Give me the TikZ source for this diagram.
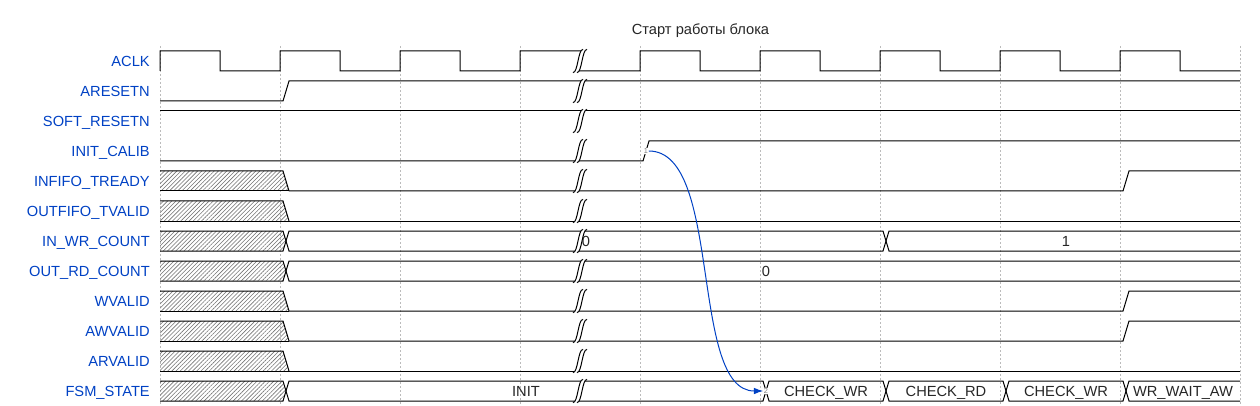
\documentclass[tikz,border=0pt]{standalone}
\usepackage{fontspec}
\setmainfont{Liberation Sans}
\usetikzlibrary{patterns.meta,arrows.meta}
\definecolor{wdblue}{HTML}{0041C4}
\definecolor{gridgray}{HTML}{BBBBBB}
\newcommand\gapmark[1]{%
  \begin{scope}[shift={(580,#1)},yscale=1.45]
    \fill[white] (7,-8) -- (3,-8) .. controls (-2,-8) and (-2,8) .. (-7,8) -- (-3,8) .. controls (2,8) and (2,-8) .. (7,-8) -- cycle;
    \draw[sig] (-7,8) .. controls (-2,8) and (-2,-8) .. (3,-8);
    \draw[sig] (-3,8) .. controls (2,8) and (2,-8) .. (7,-8);
  \end{scope}}
\newcommand\hatchlow[2]{%
  \fill[hatch] (160,#1) -- (283,#1) -- (289,#2) -- (160,#2) -- cycle;
  \draw[sig] (160,#1) -- (283,#1) -- (289,#2);
  \draw[sig] (160,#2) -- (289,#2);}
\newcommand\hatchbus[2]{%
  \fill[hatch] (160,#1) -- (283,#1) -- (286,{(#1+#2)/2}) -- (283,#2) -- (160,#2) -- cycle;}
\tikzset{
  sig/.style={line width=0.75pt, black, line join=miter},
  gridline/.style={gridgray, line width=0.75pt, dash pattern=on 1.5pt off 1.5pt},
  lbl/.style={anchor=base east, text=wdblue, font=\fontsize{11}{13}\selectfont, inner sep=0pt},
  dat/.style={anchor=base, text=black!85, font=\fontsize{11}{13}\selectfont, inner sep=0pt},
  hatch/.style={pattern={Lines[angle=45,distance=2.2pt,line width=0.45pt]}, pattern color=black!55},
  nodemark/.style={font=\fontsize{5.5}{6}\selectfont, text=black!50, fill=white, inner sep=0.4pt},
  edgearrow/.style={wdblue, line width=0.75pt, -{Latex[length=7pt,width=5pt]}},
}
\begin{document}
\begin{tikzpicture}[x=0.75pt,y=-0.75pt]
\useasboundingbox (0,0) rectangle (1260,406);
% grid
\foreach \gx in {160,280,...,1240} \draw[gridline] (\gx,46) -- (\gx,406);
% title
\node[dat] (title) at (700.5,34.5) {Старт работы блока};
% labels
\node[lbl] (l0) at (150,66.8) {ACLK};
\node[lbl] (l1) at (150,96.8) {ARESETN};
\node[lbl] (l2) at (150,126.8) {SOFT\_RESETN};
\node[lbl] (l3) at (150,156.8) {INIT\_CALIB};
\node[lbl] (l4) at (150,186.8) {INFIFO\_TREADY};
\node[lbl] (l5) at (150,216.8) {OUTFIFO\_TVALID};
\node[lbl] (l6) at (150,246.8) {IN\_WR\_COUNT};
\node[lbl] (l7) at (150,276.8) {OUT\_RD\_COUNT};
\node[lbl] (l8) at (150,306.8) {WVALID};
\node[lbl] (l9) at (150,336.8) {AWVALID};
\node[lbl] (l10) at (150,366.8) {ARVALID};
\node[lbl] (l11) at (150,396.8) {FSM\_STATE};
% ACLK
\draw[sig] (160,71)--(160,51)--(220,51)--(220,71)--(280,71)--(280,51)--(340,51)--(340,71)--(400,71)--(400,51)--(460,51)--(460,71)--(520,71)--(520,51)--(584,51)--(576,71)--(640,71)--(640,51)--(700,51)--(700,71)--(760,71)--(760,51)--(820,51)--(820,71)--(880,71)--(880,51)--(940,51)--(940,71)--(1000,71)--(1000,51)--(1060,51)--(1060,71)--(1120,71)--(1120,51)--(1180,51)--(1180,71)--(1240,71);
% ARESETN
\draw[sig] (160,101)--(283,101)--(289,81)--(1240,81);
% SOFT_RESETN
\draw[sig] (160,111)--(1240,111);
% INIT_CALIB
\draw[sig] (160,161)--(643,161)--(649,141)--(1240,141);
% INFIFO_TREADY
\hatchlow{171}{191}
\draw[sig] (289,191)--(1123,191)--(1129,171)--(1240,171);
% OUTFIFO_TVALID
\hatchlow{201}{221}
\draw[sig] (289,221)--(1240,221);
% IN_WR_COUNT
\hatchbus{231}{251}
\draw[sig] (160,231)--(283,231)--(289,251)--(883,251)--(889,231)--(1240,231);
\draw[sig] (160,251)--(283,251)--(289,231)--(883,231)--(889,251)--(1240,251);
\node[dat] (v0) at (586,246.8) {0};
\node[dat] (v1) at (1066,246.8) {1};
% OUT_RD_COUNT
\hatchbus{261}{281}
\draw[sig] (160,261)--(283,261)--(289,281)--(1240,281);
\draw[sig] (160,281)--(283,281)--(289,261)--(1240,261);
\node[dat] (v2) at (766,276.8) {0};
% WVALID
\hatchlow{291}{311}
\draw[sig] (289,311)--(1123,311)--(1129,291)--(1240,291);
% AWVALID
\hatchlow{321}{341}
\draw[sig] (289,341)--(1123,341)--(1129,321)--(1240,321);
% ARVALID
\hatchlow{351}{371}
\draw[sig] (289,371)--(1240,371);
% FSM_STATE
\hatchbus{381}{401}
\draw[sig] (160,381)--(283,381)--(289,401)--(763,401)--(769,381)--(883,381)--(889,401)--(1003,401)--(1009,381)--(1123,381)--(1129,401)--(1240,401);
\draw[sig] (160,401)--(283,401)--(289,381)--(763,381)--(769,401)--(883,401)--(889,381)--(1003,381)--(1009,401)--(1123,401)--(1129,381)--(1240,381);
\node[dat] (s0) at (526,396.8) {INIT};
\node[dat] (s1) at (826,396.8) {CHECK\_WR};
\node[dat] (s2) at (946,396.8) {CHECK\_RD};
\node[dat] (s3) at (1066,396.8) {CHECK\_WR};
\node[dat] (s4) at (1183,396.8) {WR\_WAIT\_AW};
% gaps
\foreach \ym in {61,91,...,391} {\gapmark{\ym}}
% edge
\node[nodemark] (n1) at (646,151) {1};
\node[nodemark] (n2) at (766,391) {2};
\draw[edgearrow] (n1) .. controls +(77,0) and +(-77,0) .. (n2);
\end{tikzpicture}
\end{document}
